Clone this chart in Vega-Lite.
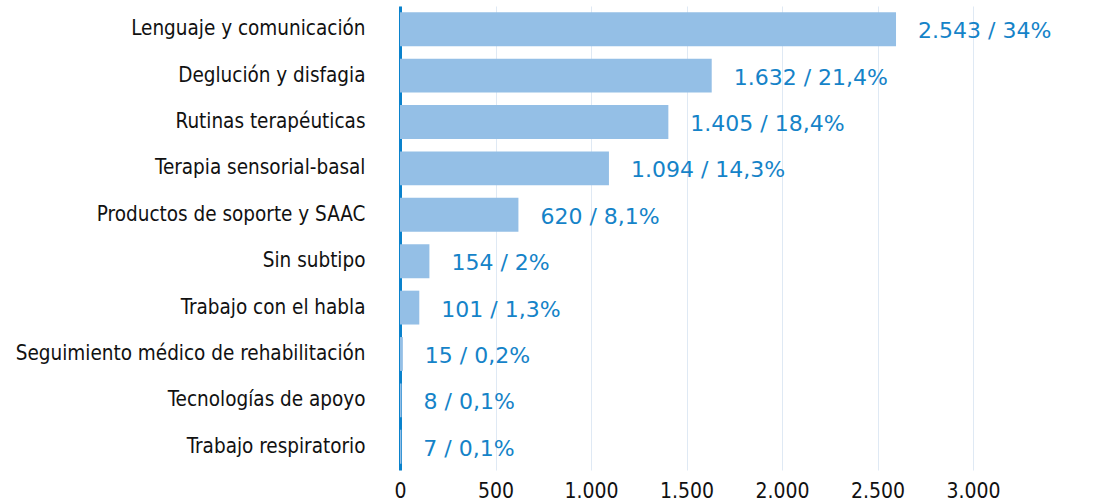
{
  "$schema": "https://vega.github.io/schema/vega-lite/v6.json",
  "width": 573,
  "height": 464,
  "autosize": {"type": "none"},
  "padding": {"left": 400, "top": 6, "right": 122, "bottom": 33},
  "background": "white",
  "config": {
    "view": {"stroke": null},
    "locale": {"number": {"decimal": ",", "thousands": ".", "grouping": [3], "currency": ["", " €"]}}
  },
  "data": {
    "values": [
      {"subtipo": "Lenguaje y comunicación", "valor": 2597, "etiqueta": "2.543 / 34%"},
      {"subtipo": "Deglución y disfagia", "valor": 1632, "etiqueta": "1.632 / 21,4%"},
      {"subtipo": "Rutinas terapéuticas", "valor": 1405, "etiqueta": "1.405 / 18,4%"},
      {"subtipo": "Terapia sensorial-basal", "valor": 1094, "etiqueta": "1.094 / 14,3%"},
      {"subtipo": "Productos de soporte y SAAC", "valor": 620, "etiqueta": "620 / 8,1%"},
      {"subtipo": "Sin subtipo", "valor": 154, "etiqueta": "154 / 2%"},
      {"subtipo": "Trabajo con el habla", "valor": 101, "etiqueta": "101 / 1,3%"},
      {"subtipo": "Seguimiento médico de rehabilitación", "valor": 15, "etiqueta": "15 / 0,2%"},
      {"subtipo": "Tecnologías de apoyo", "valor": 8, "etiqueta": "8 / 0,1%"},
      {"subtipo": "Trabajo respiratorio", "valor": 7, "etiqueta": "7 / 0,1%"}
    ]
  },
  "encoding": {
    "y": {
      "field": "subtipo", "type": "nominal", "sort": null, "title": null,
      "scale": {"paddingInner": 0.27, "paddingOuter": 0.135},
      "axis": {
        "ticks": false, "domainColor": "#0a82cc", "domainWidth": 3,
        "labelFont": "DejaVu Sans Condensed, sans-serif",
        "labelFontSize": 20.5, "labelColor": "#111111", "labelPadding": 35, "labelLimit": 400
      }
    }
  },
  "layer": [
    {
      "mark": {"type": "bar", "color": "#94bfe6"},
      "encoding": {
        "x": {
          "field": "valor", "type": "quantitative", "title": null,
          "scale": {"domain": [0, 3000], "nice": false},
          "axis": {
            "values": [0, 500, 1000, 1500, 2000, 2500, 3000],
            "format": ",d", "domain": false, "ticks": false,
            "gridColor": "#dfe9f4", "gridWidth": 1,
            "labelFont": "DejaVu Sans Condensed, sans-serif",
            "labelFontSize": 21, "labelColor": "#111111", "labelPadding": 10,
            "labelFlush": false
          }
        }
      }
    },
    {
      "mark": {"type": "text", "align": "left", "baseline": "middle", "dx": 22, "dy": 2, "font": "DejaVu Sans", "fontSize": 22, "color": "#1583c8"},
      "encoding": {
        "x": {"field": "valor", "type": "quantitative"},
        "text": {"field": "etiqueta"}
      }
    }
  ]
}
